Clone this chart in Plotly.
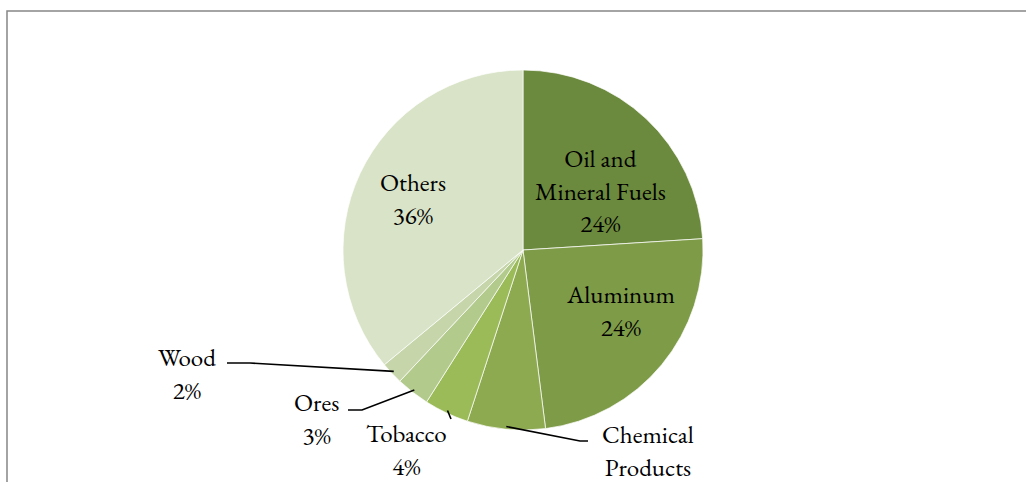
import math
import plotly.graph_objects as go

# Export composition by product group (percent)
categories = ["Oil and Mineral Fuels", "Aluminum", "Chemical Products",
              "Tobacco", "Ores", "Wood", "Others"]
label_text = ["Oil and<br>Mineral Fuels", "Aluminum", "Chemical<br>Products",
              "Tobacco", "Ores", "Wood", "Others"]
shares = [24, 24, 7, 4, 3, 2, 36]
colors = ["#6C8A3D", "#7E9B48", "#8DAA51", "#9BBB59",
          "#B3CA8D", "#C6D6AA", "#D8E3C7"]
# slices whose percentage is printed under the name
show_pct = [True, True, False, True, True, True, True]

W, H = 1026, 482
CX, CY, R = 523, 250, 180  # pie centre and radius in pixels
LINE_H = 32                # rendered line spacing of the label font


def px(x):
    return x / W


def py(y):
    return 1 - y / H


fig = go.Figure(go.Pie(
    labels=categories,
    values=shares,
    sort=False,
    direction="clockwise",
    rotation=0,
    marker=dict(colors=colors, line=dict(color="#FFFFFF", width=0.7)),
    textinfo="none",
    hoverinfo="label+percent",
    showlegend=False,
    domain=dict(x=[px(CX - R), px(CX + R)], y=[py(CY + R), py(CY - R)]),
))

total = sum(shares)
pct = [round(100 * v / total) for v in shares]

# label anchor (pixel): horizontal centre and middle of the first text line
label_pos = {
    "Oil and Mineral Fuels": (600, 159),
    "Aluminum": (620, 294),
    "Chemical Products": (648, 434),
    "Tobacco": (406, 433),
    "Ores": (316, 402),
    "Wood": (187, 357),
    "Others": (413, 182),
}

font = dict(family="Garamond, 'EB Garamond', 'Liberation Serif', serif",
            size=25, color="#000000")

annotations = []
for cat, txt, p, sp in zip(categories, label_text, pct, show_pct):
    x, y_first = label_pos[cat]
    text = f"{txt}<br>{p}%" if sp else txt
    n_lines = text.count("<br>") + 1
    y_mid = y_first + (n_lines - 1) * LINE_H / 2
    annotations.append(dict(
        x=px(x), y=py(y_mid), xref="paper", yref="paper",
        text=text, showarrow=False, font=font,
        xanchor="center", yanchor="middle", align="center",
    ))


def edge_point(idx, frac=1.0):
    """Point on the rim at the angular middle of slice idx."""
    start = sum(shares[:idx]) / total
    mid = (start + shares[idx] / total / 2) * 2 * math.pi
    return CX + frac * R * math.sin(mid), CY - frac * R * math.cos(mid)


# leader lines for the small outside labels: rim -> elbow -> label
leaders = {
    "Chemical Products": [(580, 441), (588, 441)],
    "Tobacco": [(451, 419)],
    "Ores": [(362, 410), (348, 410)],
    "Wood": [(250, 363), (227, 363)],
}
shapes = []
for cat, pts in leaders.items():
    i = categories.index(cat)
    start = edge_point(i, 0.985)
    path_pts = [start] + pts
    d = "M " + " L ".join(f"{px(a):.5f},{py(b):.5f}" for a, b in path_pts)
    shapes.append(dict(type="path", path=d, xref="paper", yref="paper",
                       line=dict(color="#000000", width=1.6)))

# chart area frame
shapes.append(dict(type="path",
                   path=f"M {px(7):.5f},0 L {px(7):.5f},{py(11):.5f} L 1.01,{py(11):.5f}",
                   xref="paper", yref="paper",
                   line=dict(color="#868686", width=1.5)))

fig.update_layout(
    width=W, height=H,
    margin=dict(l=0, r=0, t=0, b=0),
    paper_bgcolor="#FFFFFF",
    plot_bgcolor="#FFFFFF",
    annotations=annotations,
    shapes=shapes,
)

fig.write_html("out.html")
